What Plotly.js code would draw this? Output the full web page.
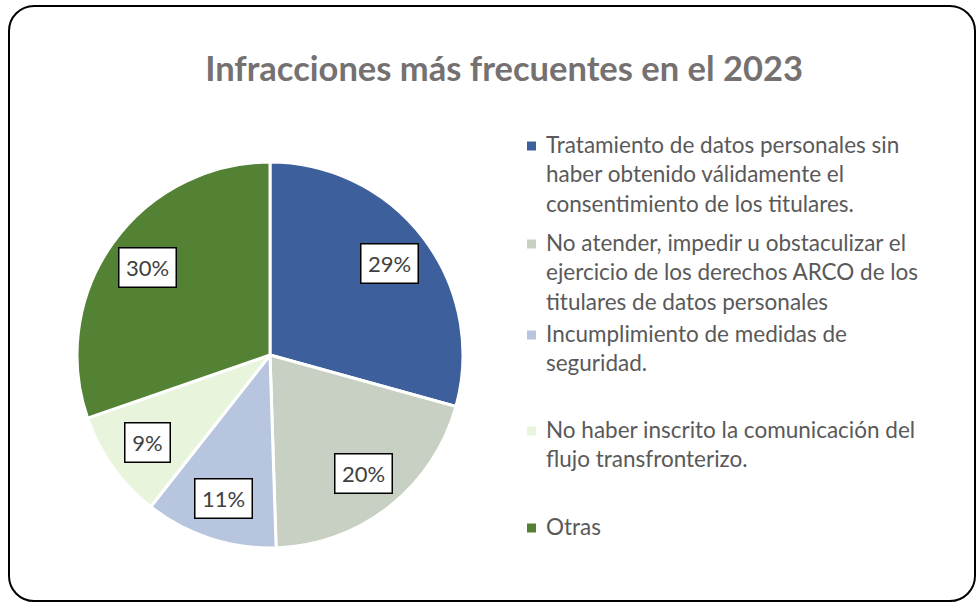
<!DOCTYPE html>
<html>
<head>
<meta charset="utf-8">
<script src="https://cdn.plot.ly/plotly-3.0.1.min.js"></script>
<style>
  html, body { margin:0; padding:0; background:#fff; }
  #wrap { position:relative; width:977px; height:603px; overflow:hidden; }
  #chart { position:absolute; left:0; top:0; width:977px; height:603px; }
  #frame { position:absolute; left:8px; top:5px; width:964px; height:593px;
           border:2px solid #000; border-radius:26px; pointer-events:none; }
</style>
</head>
<body>
<div id="wrap">
  <div id="chart"></div>
  <div id="frame"></div>
</div>
<script>
const categories = [
  "Tratamiento de datos personales sin<br>haber obtenido válidamente el<br>consentimiento de los titulares.",
  "No atender, impedir u obstaculizar el<br>ejercicio de los derechos ARCO de los<br>titulares de datos personales",
  "Incumplimiento de medidas de<br>seguridad.",
  "No haber inscrito la comunicación del<br>flujo transfronterizo.",
  "Otras"
];
const values = [29, 20, 11, 9, 30];
const colors = ["#3D5F9C", "#C8D0C3", "#B7C5DE", "#E8F4DC", "#548235"];
const chartTitle = "Infracciones más frecuentes en el 2023";

const FONT = "Lato, 'Open Sans', sans-serif";
const W = 977, H = 603;
const dom = { x: [0.0788, 0.4739], y: [0.0912, 0.7313] };

// pie geometry derived from domain, used to place boxed percentage labels
const cxPx = (dom.x[0] + dom.x[1]) / 2 * W;
const cyPx = (1 - (dom.y[0] + dom.y[1]) / 2) * H;
const R = Math.min((dom.x[1] - dom.x[0]) * W, (dom.y[1] - dom.y[0]) * H) / 2;
const total = values.reduce((a, b) => a + b, 0);
let cum = 0;
const annotations = values.map(v => {
  const mid = (cum + v / 2) / total * 2 * Math.PI;
  cum += v;
  const px = cxPx + 0.78 * R * Math.sin(mid);
  const py = cyPx - 0.78 * R * Math.cos(mid);
  const txt = Math.round(v / total * 100) + "%";
  return {
    x: px / W, y: 1 - py / H, xref: "paper", yref: "paper",
    xanchor: "center", yanchor: "middle",
    text: txt, showarrow: false,
    width: txt.length > 2 ? 48 : 36, height: 30, align: "center",
    font: { family: FONT, size: 22, color: "#404040" },
    bgcolor: "#ffffff", bordercolor: "#000000", borderwidth: 1.5, borderpad: 4
  };
});

// legend drawn as text + square keys (layout positions of each entry)
const legendTextX = 545, legendKeyX = 527, legendKeySize = 9;
const legendBaselines = [153, 251, 342, 438, 535];
const shapes = [];
categories.forEach((lab, i) => {
  const top = legendBaselines[i] - 23;
  annotations.push({
    x: legendTextX / W, y: 1 - top / H, xref: "paper", yref: "paper",
    xanchor: "left", yanchor: "top", align: "left", showarrow: false,
    text: lab, borderpad: 0,
    font: { family: FONT, size: 22.5, color: "#595959" }
  });
  const kc = legendBaselines[i] - 7;
  shapes.push({
    type: "rect", xref: "paper", yref: "paper",
    x0: legendKeyX / W, x1: (legendKeyX + legendKeySize) / W,
    y0: 1 - (kc - legendKeySize / 2) / H, y1: 1 - (kc + legendKeySize / 2) / H,
    fillcolor: colors[i], line: { width: 0 }
  });
});

const data = [{
  type: "pie",
  labels: categories,
  values: values,
  sort: false,
  direction: "clockwise",
  rotation: 0,
  domain: dom,
  marker: { colors: colors, line: { color: "#ffffff", width: 3 } },
  textinfo: "none",
  hoverinfo: "label+percent"
}];

const layout = {
  width: W, height: H,
  margin: { l: 0, r: 0, t: 0, b: 0 },
  paper_bgcolor: "#ffffff",
  title: {
    text: "<b>" + chartTitle + "</b>",
    x: 0.516, xanchor: "center", y: 0.886, yanchor: "middle",
    font: { family: FONT, size: 34.5, color: "#757171" }
  },
  showlegend: false,
  annotations: annotations,
  shapes: shapes
};

Plotly.newPlot("chart", data, layout, { displayModeBar: false, staticPlot: true });
</script>
</body>
</html>
